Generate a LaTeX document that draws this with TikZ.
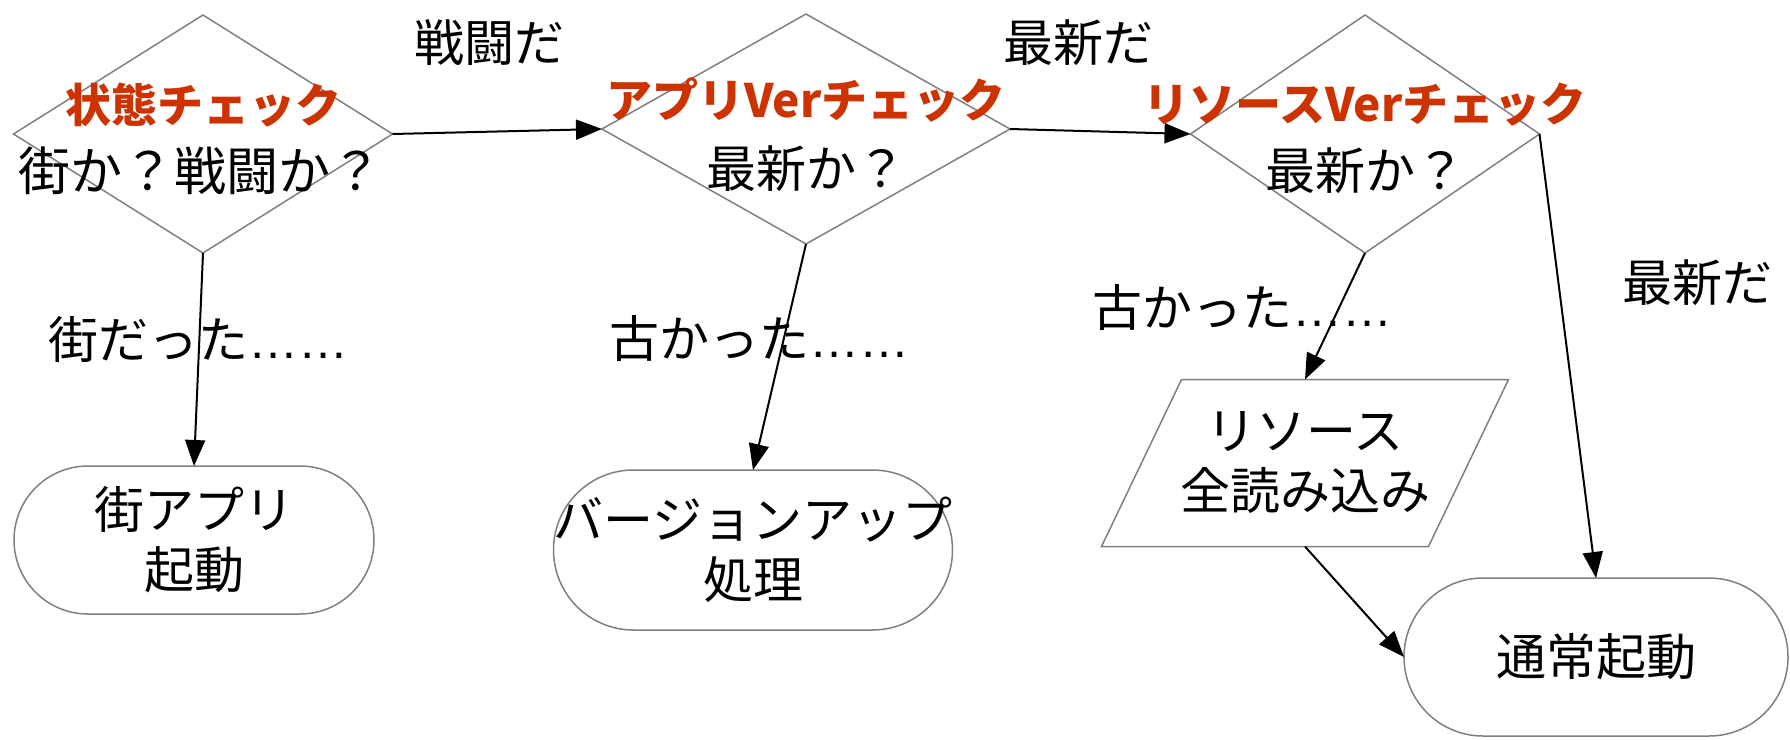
\documentclass[tikz,border=0pt]{standalone}
\usepackage{fontspec}
\setmainfont{Noto Sans CJK JP}
\newfontfamily\latinfont{Liberation Sans}
\usetikzlibrary{shapes.geometric,arrows.meta,calc}
\definecolor{titlered}{HTML}{CC3300}
\definecolor{bordergray}{HTML}{808080}
\newcommand{\ellipsistext}{{\latinfont ……}}
\begin{document}
\begin{tikzpicture}[x=1pt,y=-1pt,
  shapeborder/.style={draw=bordergray,line width=1.5pt},
  decision/.style={shapeborder,diamond,inner sep=0pt,outer sep=0pt},
  terminal/.style={shapeborder,rectangle,inner sep=0pt,outer sep=0pt,align=center,font=\fontsize{50}{60}\selectfont},
  title/.style={text=titlered,font=\fontsize{46}{52}\selectfont\bfseries,inner sep=0pt},
  body/.style={font=\fontsize{50}{60}\selectfont,align=center,inner sep=0pt},
  conn/.style={line width=2pt,-{Triangle[length=26pt,width=20pt]}},
]
\useasboundingbox (0,0) rectangle (1790,739);
\fill[white] (0,0) rectangle (1790,739);

% decisions
\node[decision,minimum width=379pt,minimum height=238pt] (d1) at (203,134) {};
\node[decision,minimum width=408pt,minimum height=230pt] (d2) at (806,129) {};
\node[decision,minimum width=349pt,minimum height=238pt] (d3) at (1365,134) {};

\node[title] (d1t) at (203,105) {状態チェック};
\node[body,font=\fontsize{52}{60}\selectfont]  (d1b) at (200,171) {街か？戦闘か？};
\node[title] (d2t) at (806,100) {アプリVerチェック};
\node[body]  (d2b) at (806,169) {最新か？};
\node[title] (d3t) at (1365,105) {リソースVerチェック};
\node[body]  (d3b) at (1365,171) {最新か？};

% terminals
\node[terminal,rounded corners=74pt,minimum width=360pt,minimum height=148pt] (b1) at (194,540) {街アプリ\\起動};
\node[terminal,rounded corners=80pt,minimum width=393pt,minimum height=160pt] (b2) at (753,550) {バージョンアップ\\処理};
\node[terminal,rounded corners=79pt,minimum width=384pt,minimum height=158pt] (b3) at (1596,657) {通常起動};

% parallelogram (data)
\node[inner sep=0pt,outer sep=0pt,minimum width=407pt,minimum height=167pt,align=center,font=\fontsize{50}{60}\selectfont] (p) at (1305,463) {リソース\\全読み込み};
\draw[shapeborder] ($(p.north west)+(80,0)$) -- (p.north east) -- ($(p.south east)-(80,0)$) -- (p.south west) -- cycle;

% edge labels
\node[body] (l12) at (489,43) {戦闘だ};
\node[body] (l23) at (1078,43) {最新だ};
\node[body] (l1b) at (198,340) {街だった\ellipsistext};
\node[body] (l2b) at (759,339) {古かった\ellipsistext};
\node[body] (l3p) at (1242,308) {古かった\ellipsistext};
\node[body] (l3b) at (1697,283) {最新だ};

% connectors
\draw[conn] (d1.east) -- (d2.west);
\draw[conn] (d2.east) -- (d3.west);
\draw[conn] (d1.south) -- (b1.north);
\draw[conn] (d2.south) -- (b2.north);
\draw[conn] (d3.south) -- (p.north);
\draw[conn] (d3.east) -- (b3.north);
\draw[conn] (p.south) -- (b3.west);
\end{tikzpicture}
\end{document}
